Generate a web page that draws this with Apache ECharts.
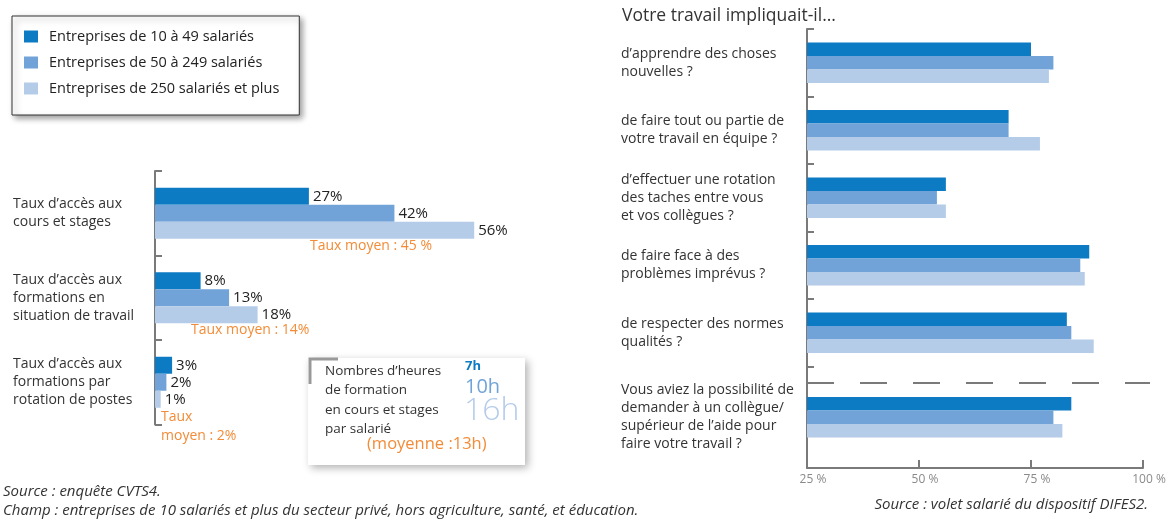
<!DOCTYPE html>
<html style="height: 100%">
<head>
    <meta charset="utf-8">
</head>
<body style="height: 100%; margin: 0; background: #fff">
    <div id="container" style="width: 1170px; height: 521px"></div>
    <script src="https://cdn.jsdelivr.net/npm/echarts@6/dist/echarts.min.js"></script>
    <script type="text/javascript">
// ---- data ----
var seriesNames = ['Entreprises de 10 à 49 salariés', 'Entreprises de 50 à 249 salariés', 'Entreprises de 250 salariés et plus'];
var colors = ['#0c7bc3', '#71a3d8', '#b5cce9'];

// left chart: taux d'acces
var accesCategories = ['Taux d’accès aux\ncours et stages', 'Taux d’accès aux\nformations en\nsituation de travail', 'Taux d’accès aux\nformations par\nrotation de postes'];
var acces10_49 = [27, 8, 3];
var acces50_249 = [42, 13, 2];
var acces250 = [56, 18, 1];
var tauxMoyen = [45, 14, 2];

// heures de formation par salarie
var heures = [7, 10, 16];
var heuresMoyenne = 13;

// right chart: votre travail impliquait-il...
var questions = ['d’apprendre des choses\nnouvelles ?', 'de faire tout ou partie de\nvotre travail en équipe ?', 'd’effectuer une rotation\ndes taches entre vous\net vos collègues ?', 'de faire face à des\nproblèmes imprévus ?', 'de respecter des normes\nqualités ?'];
var travail10_49 = [75, 70, 56, 88, 83];
var travail50_249 = [80, 70, 54, 86, 84];
var travail250 = [79, 77, 56, 87, 89];
var questionAide = ['Vous aviez la possibilité de\ndemander à un collègue/\nsupérieur de l’aide pour\nfaire votre travail ?'];
var aide10_49 = [84];
var aide50_249 = [80];
var aide250 = [82];
var xTicks = [25, 50, 75, 100];

var leftData = [acces10_49, acces50_249, acces250];
var rightData = [travail10_49, travail50_249, travail250];
var aideData = [aide10_49, aide50_249, aide250];

var dom = document.getElementById('container');
var myChart = echarts.init(dom);
var axisGray = '#7a7a7a';
var orange = '#f28c38';
var font = 'Open Sans';

var series = [];
for (var i = 0; i < 3; i++) {
    series.push({
        name: seriesNames[i],
        type: 'bar',
        xAxisIndex: 0,
        yAxisIndex: 0,
        data: leftData[i],
        barWidth: 17,
        barGap: '0%',
        itemStyle: {color: colors[i]},
        label: {
            show: true,
            position: 'right',
            distance: 4,
            formatter: '{c}%',
            color: '#222',
            fontSize: 15
        }
    });
    series.push({
        name: seriesNames[i],
        type: 'bar',
        xAxisIndex: 1,
        yAxisIndex: 1,
        data: rightData[i],
        barWidth: 13.5,
        barGap: '0%',
        itemStyle: {color: colors[i]}
    });
    series.push({
        name: seriesNames[i],
        type: 'bar',
        xAxisIndex: 2,
        yAxisIndex: 2,
        data: aideData[i],
        barWidth: 13.5,
        barGap: '0%',
        itemStyle: {color: colors[i]}
    });
}

var valueAxisHidden = function (grid, min, max) {
    return {type: 'value', gridIndex: grid, min: min, max: max, show: false};
};
var catAxis = function (grid, data, margin, ticks) {
    return {
        type: 'category',
        gridIndex: grid,
        data: data,
        inverse: true,
        axisLine: {lineStyle: {color: axisGray, width: 2}},
        axisTick: {show: ticks, inside: true, length: 7, lineStyle: {color: axisGray, width: 2}},
        axisLabel: {
            align: 'left',
            margin: margin,
            color: '#333',
            fontSize: 14,
            lineHeight: 18
        }
    };
};

var option = {
    textStyle: {fontFamily: font},
    animation: false,
    legend: {
        data: seriesNames,
        orient: 'vertical',
        left: 12,
        top: 16,
        padding: [13, 20, 19, 12],
        itemWidth: 14,
        itemHeight: 12,
        itemGap: 11,
        icon: 'rect',
        borderColor: '#333',
        borderWidth: 1,
        backgroundColor: '#fff',
        shadowBlur: 6,
        shadowColor: 'rgba(0,0,0,0.4)',
        shadowOffsetX: 3,
        shadowOffsetY: 3,
        textStyle: {color: '#222', fontSize: 14.5, padding: [0, 0, 0, 6]}
    },
    grid: [
        {left: 155, top: 171, width: 342, height: 253.5},
        {left: 807, right: 27, top: 29, height: 337.5},
        {left: 807, right: 27, top: 366.5, height: 101.5}
    ],
    xAxis: [
        valueAxisHidden(0, 0, 60),
        valueAxisHidden(1, 25, 100),
        {
            type: 'value',
            gridIndex: 2,
            min: xTicks[0],
            max: xTicks[xTicks.length - 1],
            interval: 25,
            splitLine: {show: false},
            axisLine: {show: true, lineStyle: {color: axisGray, width: 2}},
            axisTick: {show: true, inside: true, length: 8, lineStyle: {color: axisGray, width: 2}},
            axisLabel: {formatter: '{value} %', color: '#8a8a8a', fontSize: 12, margin: 6, padding: [0, 0, 0, 12]}
        }
    ],
    yAxis: [
        catAxis(0, accesCategories, 142, true),
        catAxis(1, questions, 186, true),
        catAxis(2, questionAide, 186, false)
    ],
    series: series,
    graphic: [
        // orange averages
        {type: 'text', left: 310, top: 239, style: {text: 'Taux moyen : ' + tauxMoyen[0] + ' %', fill: orange, font: '14px ' + font}},
        {type: 'text', left: 191, top: 323, style: {text: 'Taux moyen : ' + tauxMoyen[1] + '%', fill: orange, font: '14px ' + font}},
        {type: 'text', left: 161, top: 408, style: {text: 'Taux\nmoyen : ' + tauxMoyen[2] + '%', fill: orange, font: '14px ' + font, lineHeight: 19}},
        // hours box
        {type: 'rect', shape: {x: 308, y: 358, width: 217, height: 107},
            style: {fill: '#fff', shadowBlur: 8, shadowColor: 'rgba(0,0,0,0.3)', shadowOffsetX: 3, shadowOffsetY: 3}},
        {type: 'polyline', shape: {points: [[310, 384], [310, 359], [338, 359]]}, style: {stroke: '#999', lineWidth: 3, fill: null}},
        {type: 'text', left: 325, top: 361, style: {text: 'Nombres d’heures\nde formation\nen cours et stages\npar salarié', fill: '#333', font: '13.5px ' + font, lineHeight: 19.5}},
        {type: 'text', left: 367, top: 436, style: {text: '(moyenne :' + heuresMoyenne + 'h)', fill: orange, font: '16.5px ' + font}},
        {type: 'text', left: 465, top: 360, style: {text: heures[0] + 'h', fill: colors[0], font: 'bold 13px ' + font}},
        {type: 'text', left: 465, top: 377, style: {text: heures[1] + 'h', fill: colors[1], font: '20px ' + font}},
        {type: 'text', left: 464, top: 395, style: {text: heures[2] + 'h', fill: colors[2], font: '300 32px ' + font}},
        // right chart title and separator
        {type: 'text', left: 622, top: 7, style: {text: 'Votre travail impliquait-il...', fill: '#333', font: '17.5px ' + font}},
        {type: 'line', shape: {x1: 807, y1: 383, x2: 1150, y2: 383}, style: {stroke: axisGray, lineWidth: 2, lineDash: [27, 26]}},
        // sources
        {type: 'text', left: 3, top: 484, style: {text: 'Source : enquête CVTS4.', fill: '#333', font: 'italic 15px ' + font}},
        {type: 'text', left: 3, top: 503, style: {text: 'Champ : entreprises de 10 salariés et plus du secteur privé, hors agriculture, santé, et éducation.', fill: '#333', font: 'italic 15px ' + font}},
        {type: 'text', right: 22, top: 497, style: {text: 'Source : volet salarié du dispositif DIFES2.', fill: '#333', font: 'italic 15px ' + font}}
    ]
};
myChart.setOption(option);
    </script>
</body>
</html>
